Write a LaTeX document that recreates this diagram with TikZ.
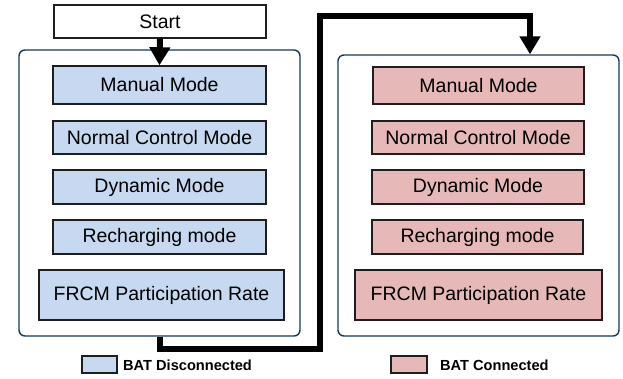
\documentclass[tikz,border=0pt]{standalone}
\usepackage{fontspec}
\setmainfont{Liberation Sans}
\usetikzlibrary{arrows.meta}
\definecolor{blueF}{RGB}{198,217,240}
\definecolor{pinkF}{RGB}{230,185,184}
\definecolor{frameC}{RGB}{23,55,94}
\definecolor{edgeC}{RGB}{30,30,30}

\begin{document}
\begin{tikzpicture}[x=1pt,y=-1pt,
  modebox/.style={draw=edgeC, line width=1.4pt, rectangle, inner sep=0pt,
    font=\fontsize{19.5}{22}\selectfont},
  groupbox/.style={draw=frameC, line width=1.4pt, rounded corners=6pt, fill=white, inner sep=0pt},
  keybox/.style={draw=edgeC, line width=1.3pt, rectangle, inner sep=0pt},
  keytext/.style={anchor=west, inner sep=0pt, font=\fontsize{14.6}{16}\selectfont\bfseries},
  bigarrow/.style={line width=6pt, line join=miter,
    -{Triangle[length=18pt,width=20pt]}}
]
\useasboundingbox (0,0) rectangle (623,378);

% group frames
\node[groupbox, minimum width=281pt, minimum height=286pt] (lgroup) at (159.5,193) {};
\node[groupbox, minimum width=281pt, minimum height=281pt] (rgroup) at (478.5,195.5) {};

% start
\node[modebox, fill=white, minimum width=212pt, minimum height=33pt] (start) at (160,21.5) {Start};

% battery disconnected modes
\node[modebox, fill=blueF, minimum width=213pt, minimum height=38pt] (lman) at (159.5,85) {Manual Mode};
\node[modebox, fill=blueF, minimum width=213pt, minimum height=33pt] (lnor) at (159.5,137.5) {Normal Control Mode};
\node[modebox, fill=blueF, minimum width=213pt, minimum height=34pt] (ldyn) at (159.5,187) {Dynamic Mode};
\node[modebox, fill=blueF, minimum width=213pt, minimum height=34pt] (lrec) at (159.5,237) {Recharging mode};
\node[modebox, fill=blueF, minimum width=245pt, minimum height=50pt] (lfrc) at (161.5,295) {FRCM Participation Rate};

% battery connected modes
\node[modebox, fill=pinkF, minimum width=211pt, minimum height=37pt] (rman) at (478.5,85.5) {Manual Mode};
\node[modebox, fill=pinkF, minimum width=212pt, minimum height=33pt] (rnor) at (478,137.5) {Normal Control Mode};
\node[modebox, fill=pinkF, minimum width=212pt, minimum height=34pt] (rdyn) at (478,187) {Dynamic Mode};
\node[modebox, fill=pinkF, minimum width=211pt, minimum height=34pt] (rrec) at (477.5,237) {Recharging mode};
\node[modebox, fill=pinkF, minimum width=247pt, minimum height=50pt] (rfrc) at (478.5,295) {FRCM Participation Rate};

% connectors
\coordinate (c1) at (320,349);
\coordinate (c3) at (530,16);
\draw[bigarrow] (start.south) -- (lman.north);
\draw[bigarrow] (lgroup.south -| start.south) |- (c1) |- (c3) -- (c3 |- rgroup.north);

% legend
\node[keybox, fill=blueF, minimum width=35pt, minimum height=17pt] (lkey) at (99.5,364.5) {};
\node[keytext] (lkeyt) at (123,365) {BAT Disconnected};
\node[keybox, fill=pinkF, minimum width=36pt, minimum height=17pt] (rkey) at (409,364.5) {};
\node[keytext] (rkeyt) at (440,365) {BAT Connected};
\end{tikzpicture}
\end{document}
